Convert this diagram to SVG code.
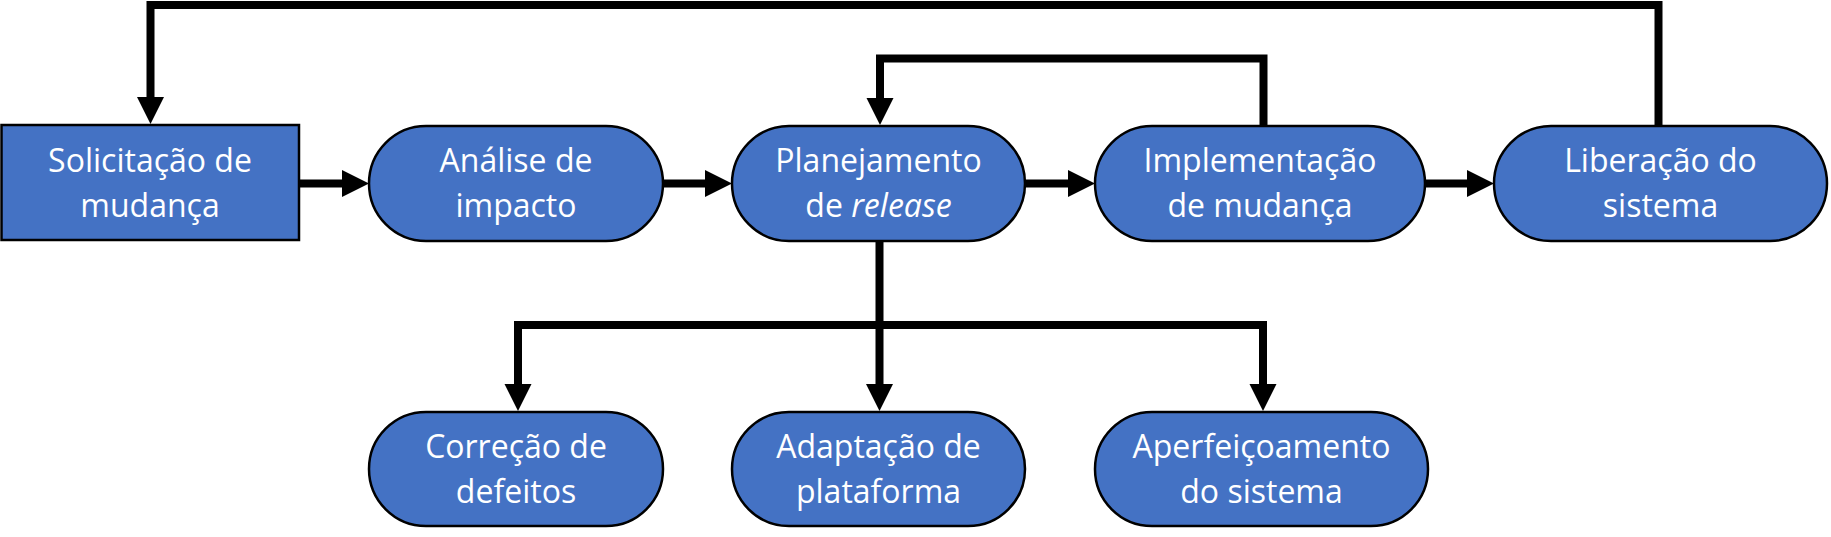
<svg xmlns="http://www.w3.org/2000/svg" width="1831" height="537" viewBox="0 0 1831 537">
<style>
.node{fill:#4472C4;stroke:#000;stroke-width:2.5}
.lbl{fill:#fff;font-family:"Open Sans","Noto Sans","Liberation Sans",sans-serif;font-size:32px;text-anchor:middle}
.conn{fill:none;stroke:#000;stroke-width:8;stroke-linejoin:miter}
</style>
<defs>
<marker id="arr" markerUnits="userSpaceOnUse" markerWidth="27" markerHeight="28" refX="0" refY="13.5" orient="auto" overflow="visible">
<path d="M0,0 L27,13.5 L0,27 Z" fill="#000"/>
</marker>
</defs>
<rect width="1831" height="537" fill="#fff"/>
<g id="connectors">
<path class="conn" d="M299,183.5 H342" marker-end="url(#arr)"/>
<path class="conn" d="M663,183.5 H705" marker-end="url(#arr)"/>
<path class="conn" d="M1025,183.5 H1068" marker-end="url(#arr)"/>
<path class="conn" d="M1425,183.5 H1467" marker-end="url(#arr)"/>
<path class="conn" d="M1658.5,126 V5 H150.5 V97" marker-end="url(#arr)"/>
<path class="conn" d="M1263.5,126 V58.5 H880 V98" marker-end="url(#arr)"/>
<path class="conn" d="M879.5,241 V384" marker-end="url(#arr)"/>
<path class="conn" d="M518,384 V325 H1263 V384" marker-end="url(#arr)"/>
<path class="conn" d="M518,330 V384" marker-end="url(#arr)"/>
</g>
<g id="solicitacao">
<rect class="node" x="1.5" y="125" width="297.5" height="115"/>
<text class="lbl" x="150" y="172">Solicitação de</text>
<text class="lbl" x="150" y="217">mudança</text>
</g>
<g id="analise">
<rect class="node" x="369" y="126" width="294" height="115" rx="57" ry="57.5"/>
<text class="lbl" x="516" y="172">Análise de</text>
<text class="lbl" x="516" y="217">impacto</text>
</g>
<g id="planejamento">
<rect class="node" x="732" y="126" width="293" height="115" rx="57" ry="57.5"/>
<text class="lbl" x="878.5" y="172">Planejamento</text>
<text class="lbl" x="878.5" y="217">de <tspan font-style="italic">release</tspan></text>
</g>
<g id="implementacao">
<rect class="node" x="1095" y="126" width="330" height="115" rx="57" ry="57.5"/>
<text class="lbl" x="1260" y="172">Implementação</text>
<text class="lbl" x="1260" y="217">de mudança</text>
</g>
<g id="liberacao">
<rect class="node" x="1494" y="126" width="333" height="115" rx="57" ry="57.5"/>
<text class="lbl" x="1660.5" y="172">Liberação do</text>
<text class="lbl" x="1660.5" y="217">sistema</text>
</g>
<g id="correcao">
<rect class="node" x="369" y="412" width="294" height="114" rx="57" ry="57"/>
<text class="lbl" x="516" y="457.5">Correção de</text>
<text class="lbl" x="516" y="502.5">defeitos</text>
</g>
<g id="adaptacao">
<rect class="node" x="732" y="412" width="293" height="114" rx="57" ry="57"/>
<text class="lbl" x="878.5" y="457.5">Adaptação de</text>
<text class="lbl" x="878.5" y="502.5">plataforma</text>
</g>
<g id="aperfeicoamento">
<rect class="node" x="1095" y="412" width="333" height="114" rx="57" ry="57"/>
<text class="lbl" x="1261.5" y="457.5">Aperfeiçoamento</text>
<text class="lbl" x="1261.5" y="502.5">do sistema</text>
</g>
</svg>
